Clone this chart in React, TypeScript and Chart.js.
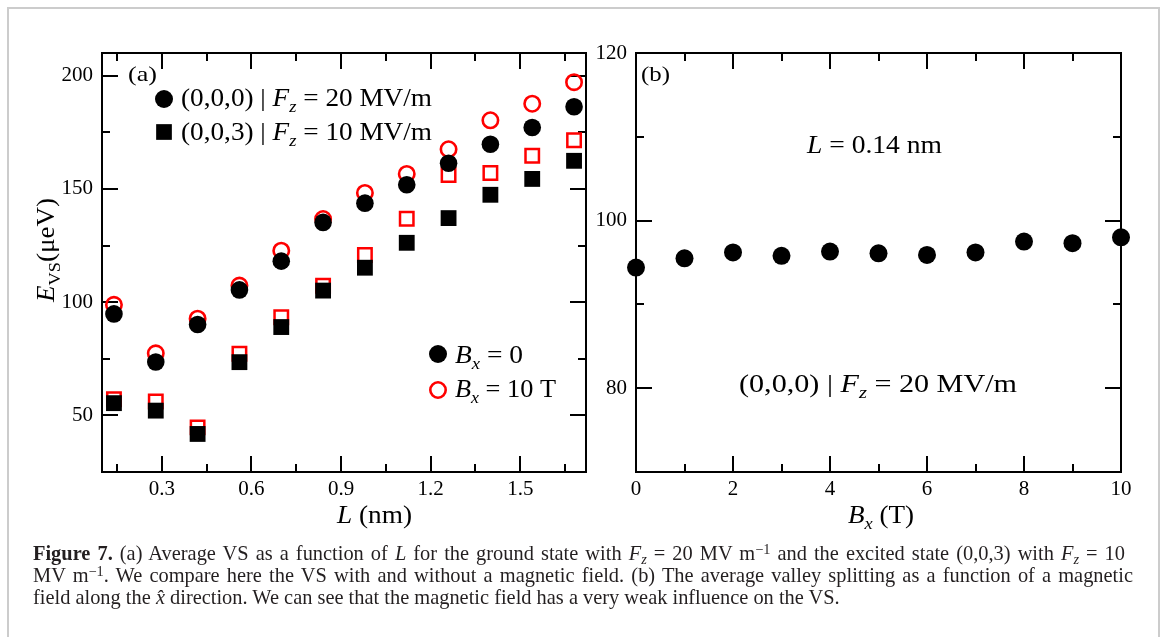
import React, { useEffect, useRef } from 'react';
import { Chart, registerables } from 'chart.js';

Chart.register(...registerables);

const SERIF = '"Liberation Serif", "Times New Roman", Times, serif';
const W = 1167;
const H = 637;

// ---- panel (a): average valley splitting vs. dot length L ----
const lengths = [0.14, 0.28, 0.42, 0.56, 0.7, 0.84, 0.98, 1.12, 1.26, 1.4, 1.54, 1.68];
const groundB0 = [94.8, 73.6, 90.1, 105.4, 118.1, 135.2, 143.7, 151.8, 161.3, 169.7, 177.1, 186.3];
const groundB10 = [98.8, 77.4, 92.7, 107.3, 122.7, 136.7, 148.2, 156.6, 167.5, 180.3, 187.6, 197.1];
const excitedB0 = [55.4, 52.1, 41.8, 73.5, 89.0, 105.1, 115.2, 126.2, 137.1, 147.4, 154.4, 162.4];
const excitedB10 = [57.1, 56.1, 44.7, 77.2, 93.3, 107.2, 120.8, 136.8, 156.1, 157.0, 164.6, 171.5];

const lMajor = [0.3, 0.6, 0.9, 1.2, 1.5];
const lLabels = ['0.3', '0.6', '0.9', '1.2', '1.5'];
const lMinor = [0.15, 0.45, 0.75, 1.05, 1.35, 1.65];
const eMajor = [50, 100, 150, 200];
const eLabels = ['50', '100', '150', '200'];
const eMinor = [75, 125, 175];

// ---- panel (b): valley splitting vs. in-plane field B_x ----
const fields = [0, 1, 2, 3, 4, 5, 6, 7, 8, 9, 10];
const splitting = [94.4, 95.5, 96.2, 95.8, 96.3, 96.1, 95.9, 96.2, 97.5, 97.3, 98.0];

const bMajor = [0, 2, 4, 6, 8, 10];
const bLabels = ['0', '2', '4', '6', '8', '10'];
const bMinor = [1, 3, 5, 7, 9];
const vMajor = [80, 100, 120];
const vLabels = ['80', '100', '120'];
const vMinor = [90, 110];

const RED = '#ff0000';
const BLACK = '#000000';

type Seg = { t: string; it?: boolean; sub?: boolean };

function segFont(s: Seg, size: number) {
  const sz = s.sub ? size * 0.68 : size;
  return `${s.it ? 'italic ' : ''}${sz}px ${SERIF}`;
}

// draws mixed italic / subscript text, optionally stretched to a given width
function drawRich(
  ctx: CanvasRenderingContext2D,
  segs: Seg[],
  x: number,
  y: number,
  size: number,
  opts: { align?: 'left' | 'center'; width?: number; rotate?: boolean } = {}
) {
  ctx.save();
  ctx.fillStyle = BLACK;
  ctx.textBaseline = 'alphabetic';
  ctx.textAlign = 'left';
  const widths = segs.map((s) => {
    ctx.font = segFont(s, size);
    return ctx.measureText(s.t).width;
  });
  const natural = widths.reduce((a, b) => a + b, 0);
  const sx = opts.width ? opts.width / natural : 1;
  ctx.translate(x, y);
  if (opts.rotate) ctx.rotate(-Math.PI / 2);
  ctx.scale(sx, 1);
  let cx = opts.align === 'center' ? -natural / 2 : 0;
  segs.forEach((s, i) => {
    ctx.font = segFont(s, size);
    ctx.fillText(s.t, cx, s.sub ? size * 0.24 : 0);
    cx += widths[i];
  });
  ctx.restore();
}

function dot(ctx: CanvasRenderingContext2D, x: number, y: number, r: number) {
  ctx.save();
  ctx.fillStyle = BLACK;
  ctx.beginPath();
  ctx.arc(x, y, r, 0, Math.PI * 2);
  ctx.fill();
  ctx.restore();
}

function ring(ctx: CanvasRenderingContext2D, x: number, y: number, r: number, w: number) {
  ctx.save();
  ctx.strokeStyle = RED;
  ctx.lineWidth = w;
  ctx.beginPath();
  ctx.arc(x, y, r, 0, Math.PI * 2);
  ctx.stroke();
  ctx.restore();
}

function block(ctx: CanvasRenderingContext2D, x: number, y: number, side: number) {
  ctx.save();
  ctx.fillStyle = BLACK;
  ctx.fillRect(x - side / 2, y - side / 2, side, side);
  ctx.restore();
}

// box around the plot area with inward major/minor ticks on all four sides
function drawFrame(chart: any, xMaj: number[], xMin: number[], yMaj: number[], yMin: number[]) {
  const ctx: CanvasRenderingContext2D = chart.ctx;
  const { left, right, top, bottom } = chart.chartArea;
  const xs = chart.scales.x;
  const ys = chart.scales.y;
  ctx.save();
  ctx.strokeStyle = BLACK;
  ctx.lineWidth = 2;
  ctx.lineCap = 'butt';
  const seg = (x1: number, y1: number, x2: number, y2: number) => {
    ctx.beginPath();
    ctx.moveTo(x1, y1);
    ctx.lineTo(x2, y2);
    ctx.stroke();
  };
  const xt = (vals: number[], len: number) =>
    vals.forEach((v) => {
      const p = Math.round(xs.getPixelForValue(v));
      seg(p, bottom, p, bottom - len);
      seg(p, top, p, top + len);
    });
  const yt = (vals: number[], len: number) =>
    vals.forEach((v) => {
      const p = Math.round(ys.getPixelForValue(v));
      seg(left, p, left + len, p);
      seg(right, p, right - len, p);
    });
  xt(xMaj, 16);
  xt(xMin, 8);
  yt(yMaj, 16);
  yt(yMin, 8);
  ctx.strokeRect(left, top, right - left, bottom - top);
  ctx.restore();
}

function axis(min: number, max: number, majors: number[], labels: string[], horizontal: boolean, fit: number, padding: number) {
  return {
    type: 'linear' as const,
    min,
    max,
    grid: { display: false, drawTicks: false },
    border: { display: false },
    ticks: {
      color: BLACK,
      font: { family: SERIF, size: 21 },
      padding,
      maxRotation: 0,
      autoSkip: false,
      callback: (v: number) => {
        const k = majors.indexOf(v);
        return k >= 0 ? labels[k] : '';
      },
    },
    afterBuildTicks: (s: any) => {
      s.ticks = majors.map((value) => ({ value }));
    },
    afterFit: (s: any) => {
      if (horizontal) s.height = fit;
      else s.width = fit;
    },
  };
}

const fzLabel = (state: string, field: string): Seg[] => [
  { t: `${state} | ` },
  { t: 'F', it: true },
  { t: 'z', it: true, sub: true },
  { t: ` = ${field} MV/m` },
];

const panelAPlugin = {
  id: 'panelA',
  beforeDatasetsDraw(chart: any) {
    drawFrame(chart, lMajor, lMinor, eMajor, eMinor);
  },
  afterDraw(chart: any) {
    const ctx: CanvasRenderingContext2D = chart.ctx;
    drawRich(ctx, [{ t: '(a)' }], 128, 81, 22, { width: 29 });
    dot(ctx, 164, 99, 9);
    block(ctx, 164, 132, 15.7);
    drawRich(ctx, fzLabel('(0,0,0)', '20'), 181, 106, 25, { width: 251 });
    drawRich(ctx, fzLabel('(0,0,3)', '10'), 181, 140, 25, { width: 251 });
    dot(ctx, 438, 354, 9);
    ring(ctx, 438, 390, 7.7, 2.6);
    drawRich(ctx, [{ t: 'B', it: true }, { t: 'x', it: true, sub: true }, { t: ' = 0' }], 455, 363, 25, { width: 68 });
    drawRich(ctx, [{ t: 'B', it: true }, { t: 'x', it: true, sub: true }, { t: ' = 10 T' }], 455, 397, 25, { width: 101 });
    drawRich(ctx, [{ t: 'L', it: true }, { t: ' (nm)' }], 337, 523, 26, { width: 75 });
    drawRich(ctx, [{ t: 'E', it: true }, { t: 'VS', sub: true }, { t: '(μeV)' }], 54, 250, 26, {
      rotate: true,
      align: 'center',
      width: 104,
    });
  },
};

const panelBPlugin = {
  id: 'panelB',
  beforeDatasetsDraw(chart: any) {
    drawFrame(chart, bMajor, bMinor, vMajor, vMinor);
  },
  afterDraw(chart: any) {
    const ctx: CanvasRenderingContext2D = chart.ctx;
    drawRich(ctx, [{ t: '(b)' }], 641, 81, 22, { width: 29 });
    drawRich(ctx, [{ t: 'L', it: true }, { t: ' = 0.14 nm' }], 807, 153, 25, { width: 135 });
    drawRich(ctx, fzLabel('(0,0,0)', '20'), 739, 392, 25, { width: 278 });
    drawRich(ctx, [{ t: 'B', it: true }, { t: 'x', it: true, sub: true }, { t: ' (T)' }], 881, 523, 26, {
      align: 'center',
      width: 66,
    });
  },
};

const pts = (xs: number[], ys: number[]) => xs.map((x, i) => ({ x, y: ys[i] }));

function PanelA() {
  const ref = useRef<HTMLCanvasElement>(null);
  useEffect(() => {
    const chart = new Chart(ref.current!, {
      type: 'scatter',
      data: {
        datasets: [
          {
            label: '(0,0,0), B_x = 0',
            data: pts(lengths, groundB0),
            pointStyle: 'circle',
            pointRadius: 8.8,
            pointBackgroundColor: BLACK,
            pointBorderWidth: 0,
            clip: false,
          },
          {
            label: '(0,0,3), B_x = 0',
            data: pts(lengths, excitedB0),
            pointStyle: 'rect',
            pointRadius: 11.2,
            pointBackgroundColor: BLACK,
            pointBorderWidth: 0,
            clip: false,
          },
          {
            label: '(0,0,0), B_x = 10 T',
            data: pts(lengths, groundB10),
            pointStyle: 'circle',
            pointRadius: 7.7,
            pointBackgroundColor: 'rgba(0,0,0,0)',
            pointBorderColor: RED,
            pointBorderWidth: 2.6,
            clip: false,
          },
          {
            label: '(0,0,3), B_x = 10 T',
            data: pts(lengths, excitedB10),
            pointStyle: 'rect',
            pointRadius: 9.5,
            pointBackgroundColor: 'rgba(0,0,0,0)',
            pointBorderColor: RED,
            pointBorderWidth: 2.5,
            clip: false,
          },
        ],
      },
      options: {
        responsive: false,
        animation: false,
        events: [],
        layout: { padding: { left: 0, top: 53, right: W - 586, bottom: H - 472 - 40 } },
        plugins: { legend: { display: false }, tooltip: { enabled: false } },
        scales: {
          x: axis(0.1, 1.72, lMajor, lLabels, true, 40, 5),
          y: axis(25, 210, eMajor, eLabels, false, 102, 9),
        },
      } as any,
      plugins: [panelAPlugin],
    });
    return () => chart.destroy();
  }, []);
  return <canvas ref={ref} width={W} height={H} style={{ position: 'absolute', left: 0, top: 0 }} />;
}

function PanelB() {
  const ref = useRef<HTMLCanvasElement>(null);
  useEffect(() => {
    const chart = new Chart(ref.current!, {
      type: 'scatter',
      data: {
        datasets: [
          {
            label: '(0,0,0), L = 0.14 nm',
            data: pts(fields, splitting),
            pointStyle: 'circle',
            pointRadius: 9,
            pointBackgroundColor: BLACK,
            pointBorderWidth: 0,
            clip: false,
          },
        ],
      },
      options: {
        responsive: false,
        animation: false,
        events: [],
        layout: { padding: { left: 590, top: 53, right: W - 1121, bottom: H - 472 - 40 } },
        plugins: { legend: { display: false }, tooltip: { enabled: false } },
        scales: {
          x: axis(0, 10, bMajor, bLabels, true, 40, 5),
          y: axis(70, 120, vMajor, vLabels, false, 46, 9),
        },
      } as any,
      plugins: [panelBPlugin],
    });
    return () => chart.destroy();
  }, []);
  return <canvas ref={ref} width={W} height={H} style={{ position: 'absolute', left: 0, top: 0 }} />;
}

const capLine: React.CSSProperties = {
  position: 'absolute',
  left: 33,
  width: 1092,
  fontFamily: SERIF,
  fontSize: 20.4,
  lineHeight: '22px',
  color: '#231f20',
};
const justify: React.CSSProperties = { textAlign: 'justify', textAlignLast: 'justify' };
const subS: React.CSSProperties = { fontSize: '0.7em', verticalAlign: '-0.25em', lineHeight: 0 };
const supS: React.CSSProperties = { fontSize: '0.7em', verticalAlign: '0.45em', lineHeight: 0 };

function Fz() {
  return (
    <>
      <i>F</i>
      <sub style={subS}>
        <i>z</i>
      </sub>
    </>
  );
}

export default function App() {
  return (
    <div style={{ position: 'fixed', left: 0, top: 0, width: W, height: H, background: '#fff', overflow: 'hidden' }}>
      <div
        style={{
          position: 'absolute',
          left: 7,
          top: 7,
          width: 1153,
          height: 700,
          border: '2px solid #cccccc',
          boxSizing: 'border-box',
        }}
      />
      <PanelA />
      <PanelB />
      <div style={{ ...capLine, ...justify, top: 542 }}>
        <b>Figure 7.</b> (a) Average VS as a function of <i>L</i> for the ground state with <Fz /> = 20 MV m
        <sup style={supS}>−1</sup> and the excited state (0,0,3) with <Fz /> = 10
      </div>
      <div style={{ ...capLine, ...justify, top: 564, width: 1100 }}>
        MV m<sup style={supS}>−1</sup>. We compare here the VS with and without a magnetic field. (b) The average valley
        splitting as a function of a magnetic
      </div>
      <div style={{ ...capLine, top: 586, width: 1100 }}>
        field along the <i>x̂</i> direction. We can see that the magnetic field has a very weak influence on the VS.
      </div>
    </div>
  );
}
